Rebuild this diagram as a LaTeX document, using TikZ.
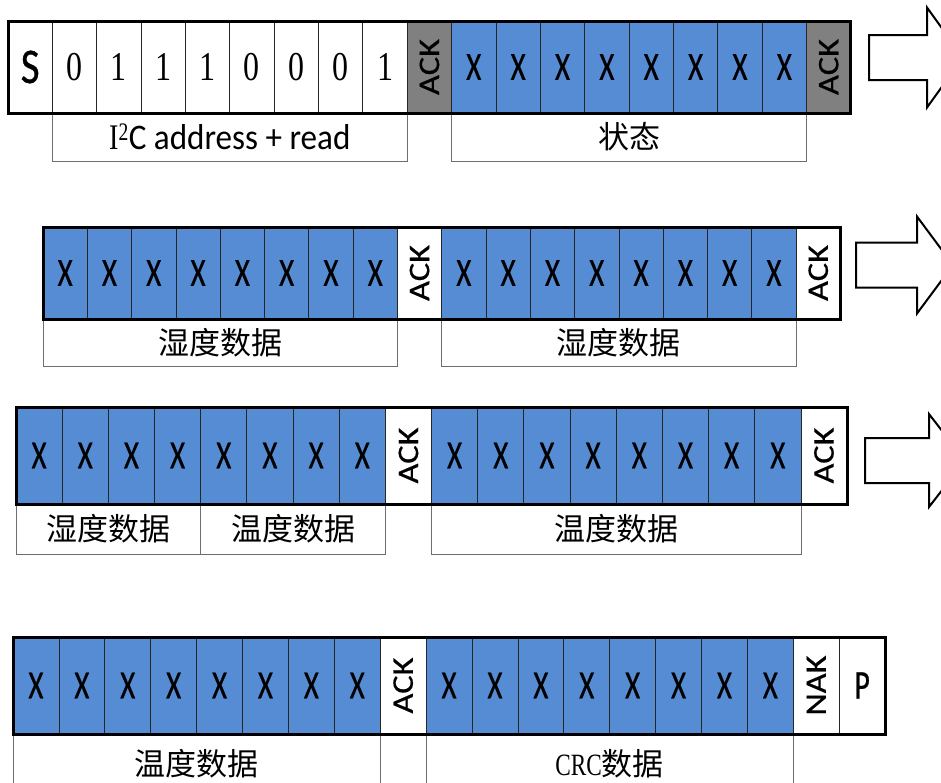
\documentclass[tikz,border=0pt]{standalone}
\usepackage{fontspec}
\setsansfont{Carlito}
\newfontfamily\bitfont[FakeStretch=0.72, FakeBold=0.6]{Carlito}
\newfontfamily\sfont[FakeStretch=0.82, FakeBold=0.6]{Carlito}
\newfontfamily\ackfont[FakeStretch=1.15, FakeBold=0.5]{Carlito}
\newfontfamily\digitfont[FakeStretch=0.78]{Liberation Serif}
\newfontfamily\labelfont[FakeStretch=0.92]{Carlito}
\newfontfamily\crcfont[FakeStretch=0.75]{Liberation Serif}
\newfontfamily\cjk{Noto Sans CJK SC}
\usetikzlibrary{positioning}

\definecolor{bitblue}{RGB}{85,140,212}
\definecolor{ackgray}{RGB}{128,128,128}
\definecolor{boxgray}{RGB}{110,110,110}

\newcommand{\vtxt}[1]{\rotatebox{90}{#1}}

\tikzset{
  bitcell/.style={draw=black!85, line width=0.8pt, rectangle, inner sep=0pt, outer sep=0pt},
  xbit/.style={bitcell, fill=bitblue, font=\bitfont\fontsize{40}{40}\selectfont},
  wbit/.style={bitcell, fill=white, font=\bitfont\fontsize{41}{41}\selectfont},
  sbit/.style={bitcell, fill=white, font=\sfont\fontsize{50}{50}\selectfont},
  dbit/.style={bitcell, fill=white, font=\digitfont\fontsize{41}{41}\selectfont},
  gack/.style={bitcell, fill=ackgray, font=\ackfont\fontsize{30}{30}\selectfont},
  wack/.style={bitcell, fill=white, font=\ackfont\fontsize{30}{30}\selectfont},
  rowframe/.style={draw=black, line width=3pt},
  lbl/.style={draw=boxgray, line width=0.8pt, rectangle, inner sep=0pt, outer sep=0pt,
    anchor=north west, font=\cjk\fontsize{31}{31}\selectfont},
  bigarrow/.style={draw=black, line width=2pt, fill=white, line join=miter}
}

\begin{document}
\begin{tikzpicture}[x=1pt, y=-1pt]
    \useasboundingbox (0,0) rectangle (941,782);
    \clip (0,0) rectangle (941,782);

    % Row 1: start, address + read, status byte
    \foreach \sty/\txt [count=\i] in {sbit/S, dbit/0, dbit/1, dbit/1, dbit/1, dbit/0, dbit/0, dbit/0, dbit/1,
      gack/\vtxt{ACK}, xbit/X, xbit/X, xbit/X, xbit/X, xbit/X, xbit/X, xbit/X, xbit/X, gack/\vtxt{ACK}}
      \node[\sty, minimum width=44.36pt, minimum height=92pt] (ra\i) at ({8+(\i-0.5)*44.36}, 67) {\txt};
    \node[lbl, minimum width=354.9pt, minimum height=48pt,
      font=\labelfont\fontsize{36}{36}\selectfont] (adr) at (ra2.south west)
      {{\digitfont I\textsuperscript{2}}C address + read};
    \node[lbl, minimum width=354.9pt, minimum height=48pt] (stat) at (ra11.south west) {状态};
    \draw[rowframe] (ra1.north west) rectangle (ra19.south east);

    % Row 2: humidity bytes
    \foreach \sty/\txt [count=\i] in {xbit/X, xbit/X, xbit/X, xbit/X, xbit/X, xbit/X, xbit/X, xbit/X, wack/\vtxt{ACK},
      xbit/X, xbit/X, xbit/X, xbit/X, xbit/X, xbit/X, xbit/X, xbit/X, wack/\vtxt{ACK}}
      \node[\sty, minimum width=44.3pt, minimum height=92pt] (rb\i) at ({43+(\i-0.5)*44.3}, 273) {\txt};
    \node[lbl, minimum width=354.4pt, minimum height=47pt] (hum1) at (rb1.south west) {湿度数据};
    \node[lbl, minimum width=354.4pt, minimum height=47pt] (hum2) at (rb10.south west) {湿度数据};
    \draw[rowframe] (rb1.north west) rectangle (rb18.south east);

    % Row 3: humidity / temperature bytes
    \foreach \sty/\txt [count=\i] in {xbit/X, xbit/X, xbit/X, xbit/X, xbit/X, xbit/X, xbit/X, xbit/X, wack/\vtxt{ACK},
      xbit/X, xbit/X, xbit/X, xbit/X, xbit/X, xbit/X, xbit/X, xbit/X, wack/\vtxt{ACK}}
      \node[\sty, minimum width=46.17pt, minimum height=97pt] (rc\i) at ({16+(\i-0.5)*46.17}, 455.5) {\txt};
    \node[lbl, minimum width=184.7pt, minimum height=50pt] (hum3) at (rc1.south west) {湿度数据};
    \node[lbl, minimum width=184.7pt, minimum height=50pt] (tmp1) at (rc5.south west) {温度数据};
    \node[lbl, minimum width=369.4pt, minimum height=50pt] (tmp2) at (rc10.south west) {温度数据};
    \draw[rowframe] (rc1.north west) rectangle (rc18.south east);

    % Row 4: temperature byte, CRC, stop
    \foreach \sty/\txt [count=\i] in {xbit/X, xbit/X, xbit/X, xbit/X, xbit/X, xbit/X, xbit/X, xbit/X, wack/\vtxt{ACK},
      xbit/X, xbit/X, xbit/X, xbit/X, xbit/X, xbit/X, xbit/X, xbit/X, wack/\vtxt{NAK}, wbit/P}
      \node[\sty, minimum width=45.9pt, minimum height=97pt] (rd\i) at ({13+(\i-0.5)*45.9}, 685.5) {\txt};
    \node[lbl, minimum width=367.2pt, minimum height=60pt] (tmp3) at (rd1.south west) {温度数据};
    \node[lbl, minimum width=367.2pt, minimum height=60pt] (crc) at (rd10.south west) {{\crcfont CRC}数据};
    \draw[rowframe] (rd1.north west) rectangle (rd19.south east);

    % Hollow arrows to the next row
    \foreach \ax/\ay/\len/\hh in {869/57.5/58/50, 856/265/61/48.5, 865/460.5/64/46.5}
      \draw[bigarrow] (\ax,\ay-22.5) -- ++(\len,0) -- ++(0,22.5-\hh) -- ++(36,\hh)
        -- ++(-36,\hh) -- ++(0,22.5-\hh) -- ++(-\len,0) -- cycle;
\end{tikzpicture}
\end{document}
